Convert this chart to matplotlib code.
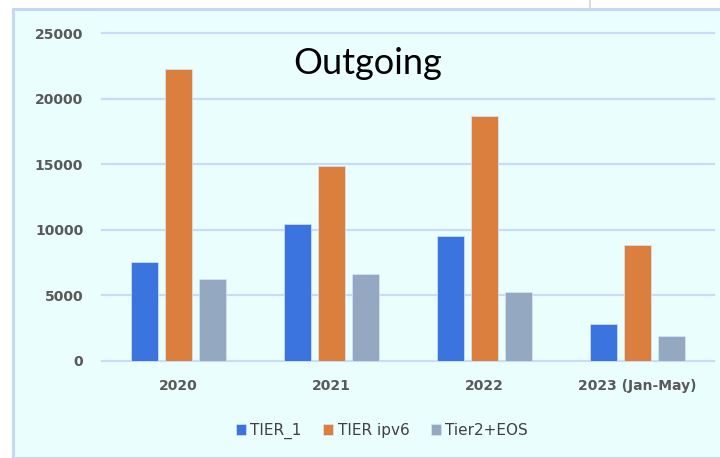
import matplotlib
matplotlib.use("Agg")
import matplotlib.pyplot as plt
from matplotlib.patches import Rectangle
from matplotlib.lines import Line2D
import numpy as np

categories = ["2020", "2021", "2022", "2023 (Jan-May)"]
tier1 = [7500, 10450, 9550, 2800]
tier_ipv6 = [22250, 14850, 18650, 8800]
tier2_eos = [6250, 6600, 5250, 1900]
series_names = ["TIER_1", "TIER ipv6", "Tier2+EOS"]
colors = ["#3b73df", "#db7f3e", "#95a8c2"]
yticks = [0, 5000, 10000, 15000, 20000, 25000]

W, H = 720, 458
fig = plt.figure(figsize=(W / 100, H / 100), dpi=100)
fig.patch.set_facecolor("white")

# panel background
panel = Rectangle((13 / W, 0), 1 - 13 / W + 0.01, 1 - 9 / H, transform=fig.transFigure,
                  facecolor="#ebfefe", edgecolor="#c4d8f4", linewidth=2.2, zorder=0)
fig.add_artist(panel)
fig.add_artist(Line2D([590 / W, 590 / W], [1, 1 - 8 / H], transform=fig.transFigure,
                      color="#dcdcdc", linewidth=1.5))

left, right = 102 / W, 714 / W
bottom, top = 1 - 360.7 / H, 1 - 33.3 / H
ax = fig.add_axes([left, bottom, right - left, top - bottom])
ax.set_facecolor("none")

x = np.arange(len(categories))
w = 0.173
off = 0.222
for i, (vals, name, c) in enumerate(zip([tier1, tier_ipv6, tier2_eos], series_names, colors)):
    ax.bar(x + (i - 1) * off, vals, width=w, color=c, label=name,
           edgecolor="#d8e4f8", linewidth=0.5, zorder=3)

ax.set_xlim(-0.5, 3.5)
ax.set_ylim(0, 25000)
ax.set_yticks(yticks)
ax.set_yticklabels([str(v) for v in yticks])
ax.set_xticks(x)
ax.set_xticklabels(categories)
ax.yaxis.grid(True, color="#c9dcf5", linewidth=1.6, zorder=0)
ax.set_axisbelow(True)
for s in ax.spines.values():
    s.set_visible(False)
ax.tick_params(axis="both", length=0)
ax.tick_params(axis="y", pad=13.5)
ax.tick_params(axis="x", pad=13.5)
for lab in ax.get_yticklabels() + ax.get_xticklabels():
    lab.set_fontfamily("DejaVu Sans")
    lab.set_fontweight("bold")
    lab.set_fontsize(10)
    lab.set_color("#595959")
for l in ax.get_ygridlines():
    l.set_clip_on(False)

fig.text(368 / W, 1 - 64 / H, "Outgoing", ha="center", va="center",
         fontsize=26, family="Lato", color="black")

leg = fig.legend(loc="center", bbox_to_anchor=(382 / W, 1 - 431 / H), ncol=3,
                 frameon=False, prop={"family": "DejaVu Sans", "size": 11},
                 handlelength=0.65, handleheight=0.65, handletextpad=0.3,
                 columnspacing=1.4)
for t in leg.get_texts():
    t.set_color("#404040")

fig.savefig("out.png", dpi=100)
